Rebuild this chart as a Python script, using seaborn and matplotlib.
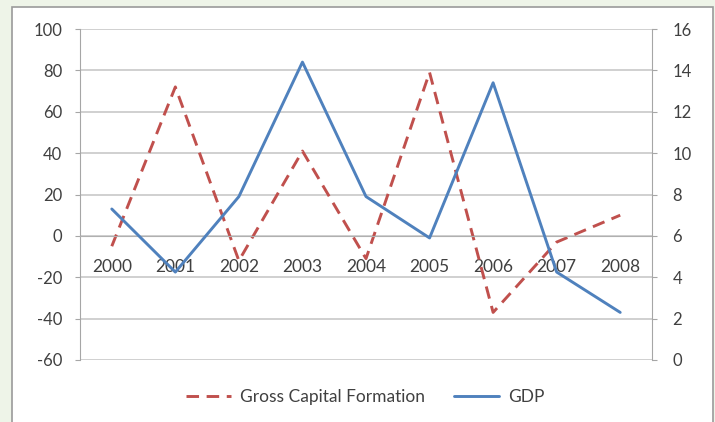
import matplotlib
matplotlib.use("Agg")
import matplotlib.pyplot as plt
from matplotlib.patches import Rectangle
from matplotlib.ticker import FixedLocator, MultipleLocator
import numpy as np
import seaborn as sns

years = ['2000', '2001', '2002', '2003', '2004', '2005', '2006', '2007', '2008']
gcf = [-5, 72, -12, 41, -11, 79, -37, -3, 10]          # left axis
gdp = [7.3, 4.25, 7.9, 14.4, 7.9, 5.9, 13.4, 4.25, 2.3]  # right axis

sns.set_style("white")
plt.rcParams.update({"font.family": ["Lato", "DejaVu Sans"],
                     "font.size": 12,
                     "axes.unicode_minus": False})

RED = '#C0504D'
BLUE = '#4F81BD'
GRID = '#c4c4c4'
TXT = '#404040'

fig = plt.figure(figsize=(7.15, 4.22), dpi=100, facecolor='#eef4e8')
# white chart area with grey frame
fig.patches.append(Rectangle((12 / 715, -0.05), 701 / 715, 1 - 7 / 422 + 0.05,
                             transform=fig.transFigure, facecolor='white',
                             edgecolor='#9a9a9a', linewidth=1.2, zorder=-5))

ax = fig.add_axes([80 / 715, 62 / 422, 572 / 715, 331 / 422])
ax.set_facecolor('none')
x = np.arange(len(years))

sns.lineplot(x=x, y=gcf, ax=ax, color=RED, linewidth=2.1, label='Gross Capital Formation')
ax.lines[-1].set_dashes((4.3, 2.6))
ax.set_ylim(-60, 100)
ax.yaxis.set_major_locator(MultipleLocator(20))
ax.set_xlim(-0.5, len(years) - 0.5)
ax.grid(axis='y', color=GRID, linewidth=1.1)
ax.set_axisbelow(True)

ax2 = ax.twinx()
sns.lineplot(x=x, y=gdp, ax=ax2, color=BLUE, linewidth=2.1, label='GDP')
ax2.set_ylim(0, 16)
ax2.yaxis.set_major_locator(MultipleLocator(2))

for a in (ax, ax2):
    for s in a.spines.values():
        s.set_visible(False)
    if a.get_legend() is not None:
        a.get_legend().remove()

ax.spines['left'].set_visible(True)
ax.spines['left'].set_color('#a6a6a6')
ax2.spines['right'].set_visible(True)
ax2.spines['right'].set_color('#a6a6a6')
ax.spines['bottom'].set_visible(True)
ax.spines['bottom'].set_position(('data', 0))
ax.spines['bottom'].set_color('#b0b0b0')

ax.set_xticks(x)
ax.set_xticklabels(years)
ax.xaxis.set_minor_locator(FixedLocator(np.arange(-0.5, len(years), 1.0)))
ax.tick_params(axis='x', which='major', length=0, pad=17, colors=TXT, labelsize=12.5)
ax.tick_params(axis='x', which='minor', length=3, direction='out', color='#b0b0b0')
ax.tick_params(axis='y', left=True, length=3.6, color='#a6a6a6', pad=9, labelcolor=TXT, labelsize=12)
ax2.tick_params(axis='y', right=True, length=3.6, color='#a6a6a6', pad=11, labelcolor=TXT, labelsize=12)

handles = [ax.lines[0], ax2.lines[0]]
fig.legend(handles, ['Gross Capital Formation', 'GDP'], loc='center',
           bbox_to_anchor=(365 / 715, 1 - 397 / 422), ncol=2, frameon=False,
           handlelength=2.6, columnspacing=1.7, handletextpad=0.5,
           labelcolor=TXT, fontsize=12.5)

fig.savefig('out.png', dpi=100, facecolor=fig.get_facecolor())
